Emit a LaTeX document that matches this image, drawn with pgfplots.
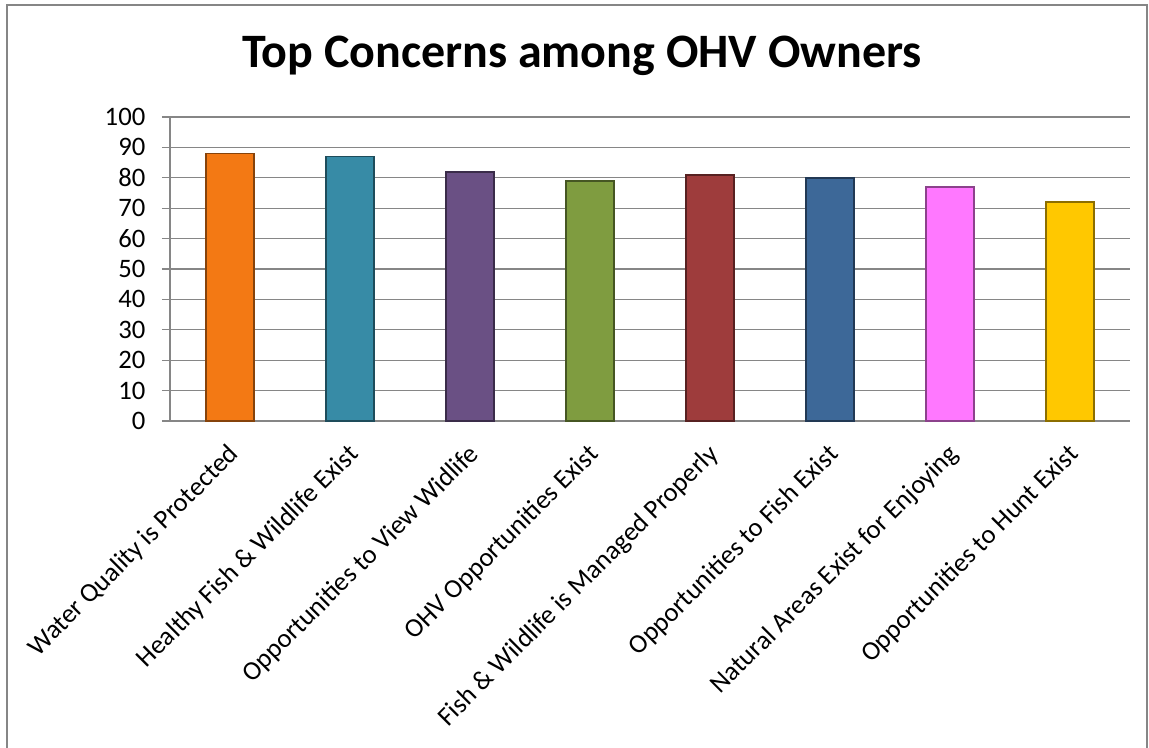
\documentclass[border=0pt]{standalone}
\usepackage{pgfplots}
\pgfplotsset{compat=1.18}
\usepackage{fontspec}
\setmainfont{Carlito}
\definecolor{gridgray}{RGB}{134,134,134}
\definecolor{c1}{RGB}{243,121,20}
\definecolor{c2}{RGB}{55,139,166}
\definecolor{c3}{RGB}{106,80,132}
\definecolor{c4}{RGB}{127,156,64}
\definecolor{c5}{RGB}{158,60,60}
\definecolor{c6}{RGB}{61,104,152}
\definecolor{c7}{RGB}{255,120,255}
\definecolor{c8}{RGB}{255,200,0}
\begin{document}
\begin{tikzpicture}
\useasboundingbox (-127.5pt,-245.25pt) rectangle (734.25pt,315.75pt);
\draw[gridgray, line width=1pt] (-122.25pt,-260pt) -- (-122.25pt,312pt) -- (732.75pt,312pt) -- (732.75pt,-260pt);
\node[anchor=base, font=\bfseries\fontsize{36}{42}\selectfont] at (309pt,264.75pt) {Top Concerns among OHV Owners};
\begin{axis}[
  at={(0,0)}, anchor=south west,
  scale only axis, width=720pt, height=228pt,
  xmin=-0.5, xmax=7.5, ymin=0, ymax=100,
  ytick distance=10,
  axis lines=left, axis line style={-, gridgray, line width=1pt},
  ymajorgrids, grid style={gridgray, line width=1pt},
  tick style={gridgray, line width=1pt},
  tick align=outside, major tick length=6pt,
  xtick={0,...,7},
  x tick style={draw=none},
  extra x ticks={-0.5,0.5,1.5,2.5,3.5,4.5,5.5,6.5,7.5},
  extra x tick labels={},
  extra x tick style={grid=none, tick style={gridgray, line width=1pt, draw=gridgray}},
  xticklabels={Water Quality is Protected, Healthy Fish \& Wildlife Exist, Opportunities to View Widlife, OHV Opportunities Exist, Fish \& Wildlife is Managed Properly, Opportunities to Fish Exist, Natural Areas Exist for Enjoying, Opportunities to Hunt Exist},
  xticklabel style={xshift=3.7pt, yshift=-16pt, rotate=45, anchor=east, font=\fontsize{20}{24}\selectfont, inner sep=0pt},
  yticklabel style={font=\fontsize{20}{24}\selectfont, xshift=-9pt},
  /pgf/number format/assume math mode=true,
  ybar, bar width=0.4, bar shift=0pt,
  clip=false,
]
\addplot[fill=c1, draw=c1!55!black, line width=1.2pt] coordinates {(0,88)};
\addplot[fill=c2, draw=c2!55!black, line width=1.2pt] coordinates {(1,87)};
\addplot[fill=c3, draw=c3!55!black, line width=1.2pt] coordinates {(2,82)};
\addplot[fill=c4, draw=c4!55!black, line width=1.2pt] coordinates {(3,79)};
\addplot[fill=c5, draw=c5!55!black, line width=1.2pt] coordinates {(4,81)};
\addplot[fill=c6, draw=c6!55!black, line width=1.2pt] coordinates {(5,80)};
\addplot[fill=c7, draw=c7!55!black, line width=1.2pt] coordinates {(6,77)};
\addplot[fill=c8, draw=c8!55!black, line width=1.2pt] coordinates {(7,72)};
\end{axis}
\end{tikzpicture}
\end{document}
